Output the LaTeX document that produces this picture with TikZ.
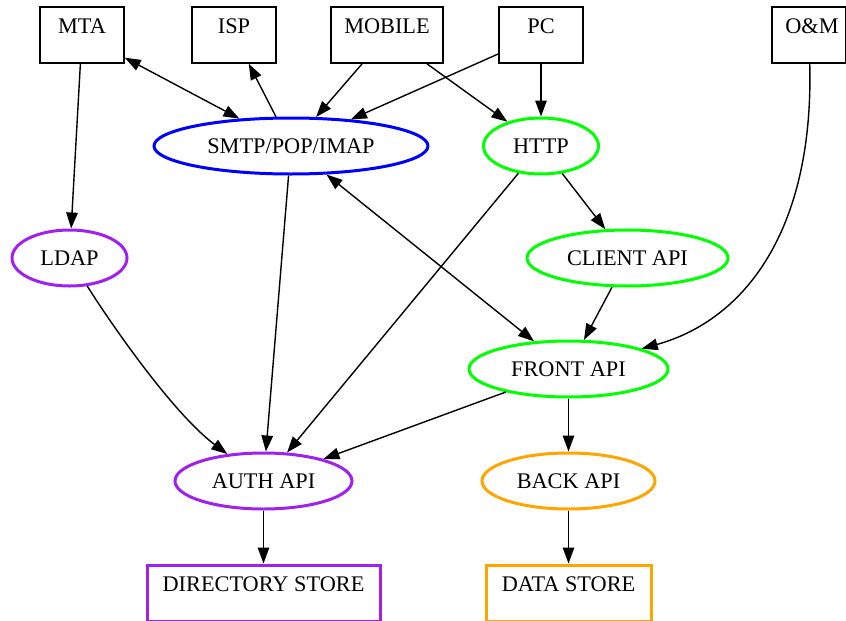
\documentclass[tikz,border=0pt]{standalone}
\usepackage{fontspec}
\setmainfont{Liberation Serif}
\usetikzlibrary{shapes.geometric,arrows.meta}
\definecolor{gvpurple}{RGB}{160,32,240}
\definecolor{gvorange}{RGB}{255,165,0}
\definecolor{gvgreen}{RGB}{0,255,0}
\definecolor{gvblue}{RGB}{0,0,255}
\begin{document}
\begin{tikzpicture}[x=1pt,y=-1pt,
  every node/.style={font=\fontsize{22.3}{25}\selectfont},
  gvbox/.style={draw, line width=1.5pt, minimum width=84pt, minimum height=56pt, inner sep=0pt},
  gvell/.style={ellipse, draw, line width=3pt, inner sep=0pt, minimum height=56pt},
  edge/.style={line width=1.4pt, -{Triangle[length=16pt,width=11.5pt]}},
  bi/.style={line width=1.4pt, {Triangle[length=16pt,width=11.5pt]}-{Triangle[length=16pt,width=11.5pt]}},
  up/.style={yshift=9pt}
]
\useasboundingbox (0,0) rectangle (846,621);
% top boxes
\node[gvbox, label={[up]center:MTA}] (mta) at (82,35) {};
\node[gvbox, label={[up]center:ISP}] (isp) at (234,35) {};
\node[gvbox, minimum width=112pt, label={[up]center:MOBILE}] (mobile) at (387,35) {};
\node[gvbox, label={[up]center:PC}] (pc) at (541,35) {};
\node[gvbox, minimum width=74pt, label={[up, xshift=3pt]center:O\&M}] (om) at (809,35) {};
% ellipses
\node[gvell, draw=gvblue, minimum width=274pt] (smtp) at (291,146) {SMTP/POP/IMAP};
\node[gvell, draw=gvgreen, minimum width=115pt] (http) at (541,146) {HTTP};
\node[gvell, draw=gvpurple, minimum width=115pt] (ldap) at (69.5,258) {LDAP};
\node[gvell, draw=gvgreen, minimum width=201pt] (client) at (627.5,258) {CLIENT API};
\node[gvell, draw=gvgreen, minimum width=199pt] (front) at (568.5,369) {FRONT API};
\node[gvell, draw=gvpurple, minimum width=177pt] (auth) at (263.5,481) {AUTH API};
\node[gvell, draw=gvorange, minimum width=173pt] (back) at (568.5,481) {BACK API};
% bottom boxes
\node[gvbox, draw=gvpurple, line width=3pt, minimum width=233pt, label={[up]center:DIRECTORY STORE}] (dir) at (263.5,593) {};
\node[gvbox, draw=gvorange, line width=3pt, minimum width=165pt, label={[up]center:DATA STORE}] (data) at (568.5,593) {};
% edges
\draw[bi] (mta) -- (smtp);
\draw[edge] (smtp) -- (isp);
\draw[edge] (mobile) -- (smtp);
\draw[edge] (pc) -- (smtp);
\draw[edge] (mobile) -- (http);
\draw[edge] (pc) -- (http);
\draw[edge] (mta) -- (ldap);
\draw[edge] (smtp) -- (auth);
\draw[bi] (smtp) -- (front);
\draw[edge] (http) -- (auth);
\draw[edge] (http) -- (client);
\draw[edge] (client) -- (front);
\draw[edge] (om) .. controls (814,230) and (745,320) .. (front);
\draw[edge] (ldap) .. controls (115,330) and (175,415) .. (auth);
\draw[edge] (front) -- (auth);
\draw[edge] (front) -- (back);
\draw[edge] (auth) -- (dir);
\draw[edge] (back) -- (data);
\end{tikzpicture}
\end{document}
